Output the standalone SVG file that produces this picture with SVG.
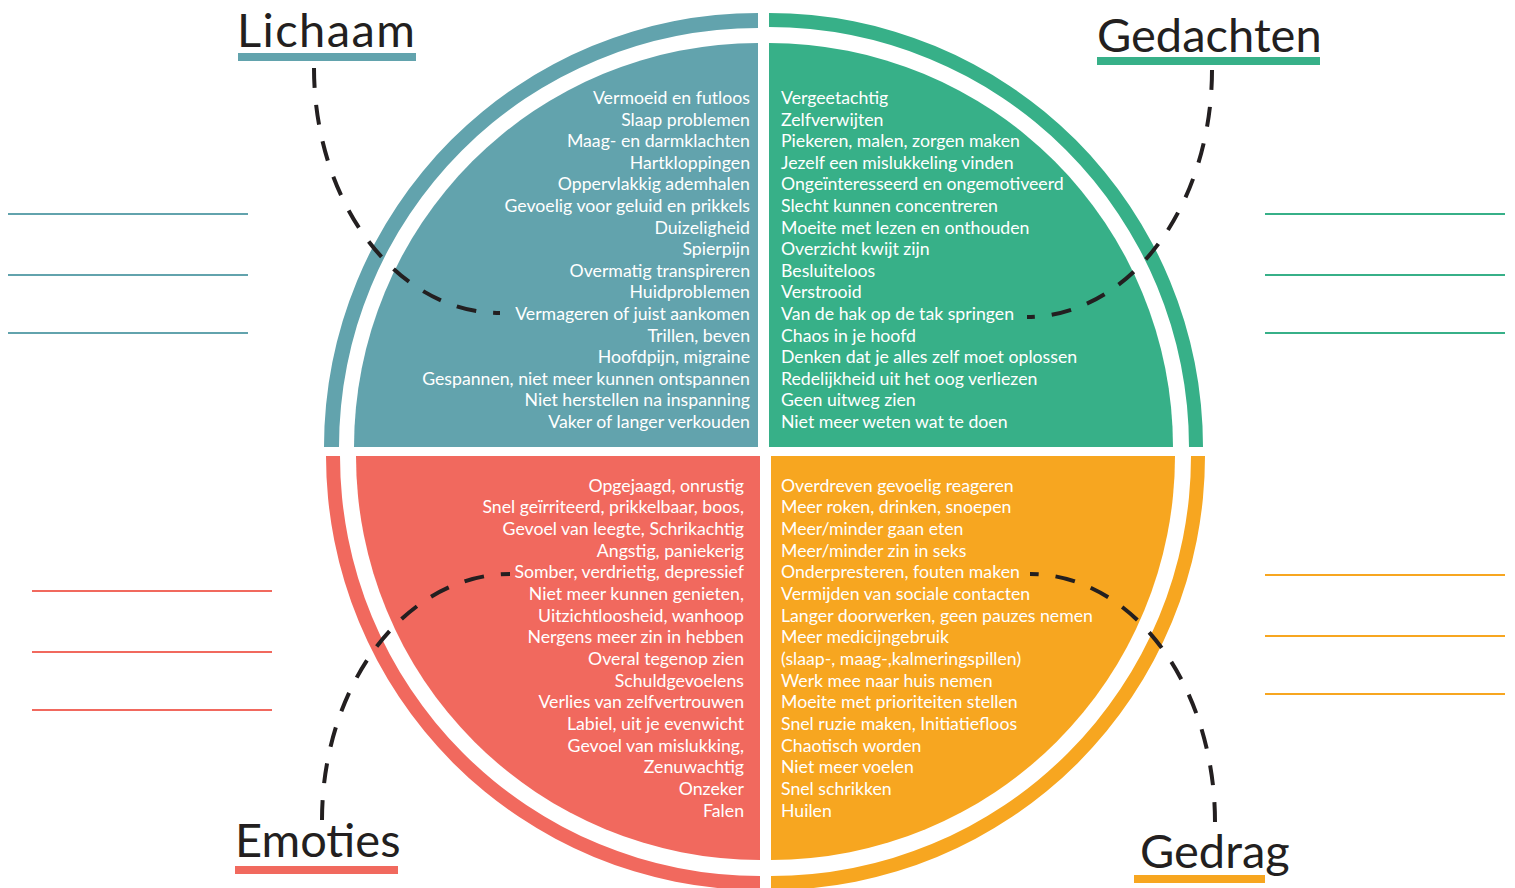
<svg xmlns="http://www.w3.org/2000/svg" width="1515" height="888" viewBox="0 0 1515 888">
  <style>
    .teal { fill: #62A3AD; }
    .green { fill: #37B088; }
    .red { fill: #F1695E; }
    .orange { fill: #F7A620; }
    .item { font-family: Lato, "Open Sans", sans-serif; font-size: 17.7px; fill: #FFFFFF; }
    .end { text-anchor: end; }
    .title { font-family: Lato, "Open Sans", sans-serif; font-size: 47px; fill: #231F20; }
    .link { fill: none; stroke: #231F20; stroke-width: 4; stroke-dasharray: 20 17; }
    .rule { stroke-width: 2; }
  </style>
  <rect width="1515" height="888" fill="#FFFFFF"/>

  <!-- Lichaam: body -->
  <g id="lichaam">
    <path class="teal" d="M 758 13 A 434 434 0 0 0 324 447 L 339 447 A 419 419 0 0 1 758 28 Z"/>
    <path class="teal" d="M 758 447 L 354 447 A 404 404 0 0 1 758 43 Z"/>
    <g class="item end">
      <text x="750" y="104">Vermoeid en futloos</text>
      <text x="750" y="125.6">Slaap problemen</text>
      <text x="750" y="147.2">Maag- en darmklachten</text>
      <text x="750" y="168.8">Hartkloppingen</text>
      <text x="750" y="190.4">Oppervlakkig ademhalen</text>
      <text x="750" y="212">Gevoelig voor geluid en prikkels</text>
      <text x="750" y="233.6">Duizeligheid</text>
      <text x="750" y="255.2">Spierpijn</text>
      <text x="750" y="276.8">Overmatig transpireren</text>
      <text x="750" y="298.4">Huidproblemen</text>
      <text x="750" y="320">Vermageren of juist aankomen</text>
      <text x="750" y="341.6">Trillen, beven</text>
      <text x="750" y="363.2">Hoofdpijn, migraine</text>
      <text x="750" y="384.8">Gespannen, niet meer kunnen ontspannen</text>
      <text x="750" y="406.4">Niet herstellen na inspanning</text>
      <text x="750" y="428">Vaker of langer verkouden</text>
    </g>
    <text class="title" x="237" y="47" letter-spacing="1.4">Lichaam</text>
    <rect class="teal" x="238" y="53" width="178" height="8"/>
    <g stroke="#62A3AD" class="rule">
      <line x1="8" y1="214" x2="248" y2="214"/>
      <line x1="8" y1="275" x2="248" y2="275"/>
      <line x1="8" y1="333" x2="248" y2="333"/>
    </g>
  </g>

  <!-- Gedachten: thoughts -->
  <g id="gedachten">
    <path class="green" d="M 769 13 A 434 434 0 0 1 1203 447 L 1189 447 A 420 420 0 0 0 769 27 Z"/>
    <path class="green" d="M 769 447 L 769 43 A 404 404 0 0 1 1173 447 Z"/>
    <g class="item">
      <text x="781" y="104">Vergeetachtig</text>
      <text x="781" y="125.6">Zelfverwijten</text>
      <text x="781" y="147.2">Piekeren, malen, zorgen maken</text>
      <text x="781" y="168.8">Jezelf een mislukkeling vinden</text>
      <text x="781" y="190.4">Ongeïnteresseerd en ongemotiveerd</text>
      <text x="781" y="212">Slecht kunnen concentreren</text>
      <text x="781" y="233.6">Moeite met lezen en onthouden</text>
      <text x="781" y="255.2">Overzicht kwijt zijn</text>
      <text x="781" y="276.8">Besluiteloos</text>
      <text x="781" y="298.4">Verstrooid</text>
      <text x="781" y="320">Van de hak op de tak springen</text>
      <text x="781" y="341.6">Chaos in je hoofd</text>
      <text x="781" y="363.2">Denken dat je alles zelf moet oplossen</text>
      <text x="781" y="384.8">Redelijkheid uit het oog verliezen</text>
      <text x="781" y="406.4">Geen uitweg zien</text>
      <text x="781" y="428">Niet meer weten wat te doen</text>
    </g>
    <text class="title" x="1097" y="52">Gedachten</text>
    <rect class="green" x="1097" y="57" width="223" height="8"/>
    <g stroke="#37B088" class="rule">
      <line x1="1265" y1="214" x2="1505" y2="214"/>
      <line x1="1265" y1="275" x2="1505" y2="275"/>
      <line x1="1265" y1="333" x2="1505" y2="333"/>
    </g>
  </g>

  <!-- Emoties: emotions -->
  <g id="emoties">
    <path class="red" d="M 760 890 A 434 434 0 0 1 326 456 L 340 456 A 420 420 0 0 0 760 876 Z"/>
    <path class="red" d="M 760 456 L 356 456 A 404 404 0 0 0 760 860 Z"/>
    <g class="item end">
      <text x="744" y="491.7">Opgejaagd, onrustig</text>
      <text x="744" y="513.4">Snel geïrriteerd, prikkelbaar, boos,</text>
      <text x="744" y="535">Gevoel van leegte, Schrikachtig</text>
      <text x="744" y="556.7">Angstig, paniekerig</text>
      <text x="744" y="578.4">Somber, verdrietig, depressief</text>
      <text x="744" y="600">Niet meer kunnen genieten,</text>
      <text x="744" y="621.7">Uitzichtloosheid, wanhoop</text>
      <text x="744" y="643.4">Nergens meer zin in hebben</text>
      <text x="744" y="665">Overal tegenop zien</text>
      <text x="744" y="686.7">Schuldgevoelens</text>
      <text x="744" y="708.4">Verlies van zelfvertrouwen</text>
      <text x="744" y="730">Labiel, uit je evenwicht</text>
      <text x="744" y="751.7">Gevoel van mislukking,</text>
      <text x="744" y="773.4">Zenuwachtig</text>
      <text x="744" y="795">Onzeker</text>
      <text x="744" y="816.7">Falen</text>
    </g>
    <text class="title" x="235" y="857">Emoties</text>
    <rect class="red" x="235" y="866" width="163" height="8"/>
    <g stroke="#F1695E" class="rule">
      <line x1="32" y1="591" x2="272" y2="591"/>
      <line x1="32" y1="652" x2="272" y2="652"/>
      <line x1="32" y1="710" x2="272" y2="710"/>
    </g>
  </g>

  <!-- Gedrag: behaviour -->
  <g id="gedrag">
    <path class="orange" d="M 1205 456 A 434 434 0 0 1 771 890 L 771 876 A 420 420 0 0 0 1191 456 Z"/>
    <path class="orange" d="M 771 456 L 1175 456 A 404 404 0 0 1 771 860 Z"/>
    <g class="item">
      <text x="781" y="491.7">Overdreven gevoelig reageren</text>
      <text x="781" y="513.4">Meer roken, drinken, snoepen</text>
      <text x="781" y="535">Meer/minder gaan eten</text>
      <text x="781" y="556.7">Meer/minder zin in seks</text>
      <text x="781" y="578.4">Onderpresteren, fouten maken</text>
      <text x="781" y="600">Vermijden van sociale contacten</text>
      <text x="781" y="621.7">Langer doorwerken, geen pauzes nemen</text>
      <text x="781" y="643.4">Meer medicijngebruik</text>
      <text x="781" y="665">(slaap-, maag-,kalmeringspillen)</text>
      <text x="781" y="686.7">Werk mee naar huis nemen</text>
      <text x="781" y="708.4">Moeite met prioriteiten stellen</text>
      <text x="781" y="730">Snel ruzie maken, Initiatiefloos</text>
      <text x="781" y="751.7">Chaotisch worden</text>
      <text x="781" y="773.4">Niet meer voelen</text>
      <text x="781" y="795">Snel schrikken</text>
      <text x="781" y="816.7">Huilen</text>
    </g>
    <text class="title" x="1140" y="868">Gedrag</text>
    <rect class="orange" x="1134" y="875" width="131" height="8"/>
    <g stroke="#F7A620" class="rule">
      <line x1="1265" y1="575" x2="1505" y2="575"/>
      <line x1="1265" y1="636" x2="1505" y2="636"/>
      <line x1="1265" y1="694" x2="1505" y2="694"/>
    </g>
  </g>

  <!-- dashed leader curves from each title into its quadrant -->
  <g id="connectors">
    <path class="link" d="M 314 68 A 186 245 0 0 0 500 313"/>
    <path class="link" d="M 1212 70 A 185 247 0 0 1 1027 317"/>
    <path class="link" d="M 322 820 A 188 246 0 0 1 510 574"/>
    <path class="link" d="M 1215 822 A 185 248 0 0 0 1030 574"/>
  </g>
</svg>
